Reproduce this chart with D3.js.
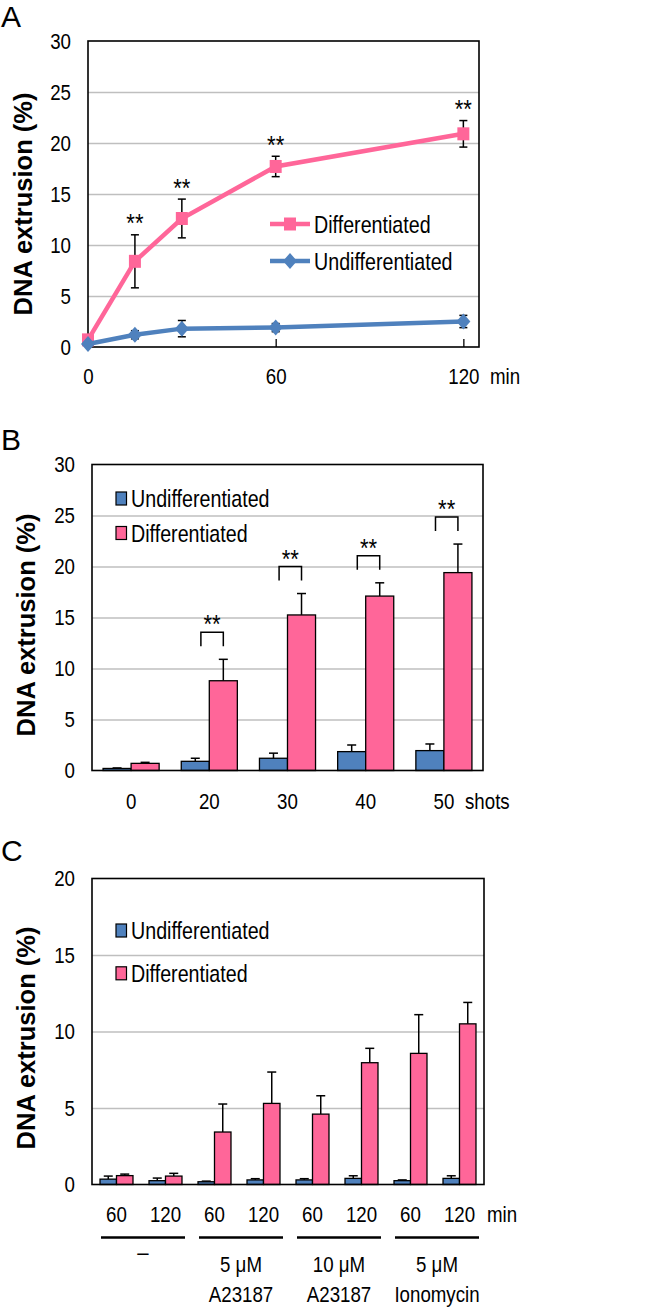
<!DOCTYPE html>
<html><head><meta charset="utf-8">
<script src="https://cdn.jsdelivr.net/npm/d3@7"></script>
<style>body{margin:0;background:#fff}svg{display:block}</style>
</head><body>
<svg id="chart" width="664" height="1307"></svg>
<script>
// ---------- DATA ----------
// Panel A (time course, min)
const timeA = [0, 15, 30, 60, 120];
const diffA = [0.7, 8.4, 12.6, 17.7, 20.9];
const diffErrA = [0.3, 2.6, 1.9, 1.0, 1.3];
const undiffA = [0.3, 1.2, 1.8, 1.9, 2.5];
const undiffErrA = [0.2, 0.4, 0.8, 0.4, 0.6];
const sigA = [false, true, true, true, true];
const xTicksA = [0, 60, 120];
// Panel B (shots)
const shotsB = ['0', '20', '30', '40', '50'];
const undiffB = [0.2, 0.9, 1.2, 1.85, 1.95];
const undiffErrB = [0.05, 0.3, 0.5, 0.65, 0.65];
const diffB = [0.7, 8.8, 15.25, 17.1, 19.4];
const diffErrB = [0.1, 2.1, 2.1, 1.3, 2.8];
const sigB = [false, true, true, true, true];
// Panel C (ionophores)
const minutesC = ['60', '120', '60', '120', '60', '120', '60', '120'];
const treatmentsC = [['–'], ['5 μM', 'A23187'], ['10 μM', 'A23187'], ['5 μM', 'Ionomycin']];
const undiffC = [0.35, 0.25, 0.18, 0.3, 0.3, 0.4, 0.25, 0.4];
const undiffErrC = [0.2, 0.17, 0.04, 0.08, 0.08, 0.17, 0.05, 0.17];
const diffC = [0.58, 0.55, 3.43, 5.3, 4.6, 7.96, 8.57, 10.5];
const diffErrC = [0.1, 0.18, 1.83, 2.05, 1.2, 0.94, 2.53, 1.4];
const yTicks30 = [0, 5, 10, 15, 20, 25, 30];
const yTicks20 = [0, 5, 10, 15, 20];
const seriesNames = ['Undifferentiated', 'Differentiated'];

// ---------- STYLE ----------
const FONT = "'Liberation Sans', Arial, Helvetica, sans-serif";
const PINK = '#FF6699', BLUE = '#4F81BD', GRID = '#BFBFBF';
const SX = 0.85;   // horizontal squeeze of the original figure text
const svg = d3.select('#chart');

// custom marker shapes (slightly taller than wide, like the original)
const squareSym = { draw(ctx) { ctx.moveTo(-6, -6.5); ctx.lineTo(6, -6.5); ctx.lineTo(6, 6.5); ctx.lineTo(-6, 6.5); ctx.closePath(); } };
const diamondSym = { draw(ctx) { ctx.moveTo(0, -8); ctx.lineTo(7, 0); ctx.lineTo(0, 8); ctx.lineTo(-7, 0); ctx.closePath(); } };

function txt(g, x, y, s, o = {}) {
  return g.append('text')
    .attr('transform', `translate(${x},${y}) scale(${o.sx ?? SX},1)`)
    .attr('text-anchor', o.anchor || 'start')
    .attr('font-family', FONT)
    .attr('font-size', o.size || 22)
    .attr('font-weight', o.weight || 'normal')
    .attr('fill', '#000')
    .text(s);
}

function frameAndYAxis(g, y, ticks, L, R) {
  g.append('g').attr('transform', `translate(${L},0)`)
    .call(d3.axisLeft(y).tickValues(ticks.slice(1, -1)).tickSize(-(R - L)).tickFormat(''))
    .call(a => a.select('.domain').remove())
    .selectAll('line').attr('stroke', GRID).attr('stroke-width', 1.6);
  const ax = g.append('g').attr('transform', `translate(${L},0)`)
    .call(d3.axisLeft(y).tickValues(ticks).tickSize(0).tickPadding(17));
  ax.select('.domain').remove();
  ax.selectAll('text').attr('font-family', FONT).attr('font-size', 22).attr('fill', '#000')
    .attr('x', -17 / SX).attr('transform', `scale(${SX},1)`);
}

function frame(g, L, R, T, B) {
  g.append('rect').attr('x', L).attr('y', T).attr('width', R - L).attr('height', B - T)
    .attr('fill', 'none').attr('stroke', '#000').attr('stroke-width', 1.6);
}

function yLabel(g, x, cy) {
  g.append('text').attr('transform', `translate(${x},${cy}) rotate(-90)`)
    .attr('text-anchor', 'middle').attr('font-family', FONT).attr('font-size', 25.5)
    .attr('font-weight', 'bold').text('DNA extrusion (%)');
}

// ================= PANEL A =================
{
  const L = 88, R = 479, T = 41, B = 347;
  const g = svg.append('g');
  const x = d3.scaleLinear().domain([0, 125]).range([L, R]);
  const y = d3.scaleLinear().domain([0, 30]).range([B, T]);
  txt(g, 1, 27, 'A', { size: 30, sx: 1 });
  frameAndYAxis(g, y, yTicks30, L, R);
  frame(g, L, R, T, B);
  yLabel(g, 32, 204);
  const xa = g.append('g').attr('transform', `translate(0,${B})`)
    .call(d3.axisBottom(x).tickValues(xTicksA).tickSize(-8).tickPadding(21));
  xa.select('.domain').remove();
  xa.selectAll('line').attr('stroke', '#000').attr('stroke-width', 1.3);
  xa.selectAll('text').attr('font-family', FONT).attr('font-size', 22).attr('fill', '#000')
    .attr('transform', `scale(${SX},1)`);
  txt(g, 490, 384, 'min');

  const series = [
    { vals: diffA, err: diffErrA, color: PINK, shape: squareSym, sig: sigA },
    { vals: undiffA, err: undiffErrA, color: BLUE, shape: diamondSym }
  ];
  series.forEach(s => {
    const pts = timeA.map((t, i) => ({ t, v: s.vals[i], e: s.err[i] }));
    g.append('path').datum(pts)
      .attr('d', d3.line().x(d => x(d.t)).y(d => y(d.v)))
      .attr('fill', 'none').attr('stroke', s.color).attr('stroke-width', 4.5);
    const eb = g.append('g').selectAll('g').data(pts).join('g');
    eb.append('line').attr('x1', d => x(d.t)).attr('x2', d => x(d.t))
      .attr('y1', d => y(d.v - d.e)).attr('y2', d => y(d.v + d.e))
      .attr('stroke', '#000').attr('stroke-width', 1.5);
    [1, -1].forEach(sg => eb.append('line')
      .attr('x1', d => x(d.t) - 4).attr('x2', d => x(d.t) + 4)
      .attr('y1', d => y(d.v + sg * d.e)).attr('y2', d => y(d.v + sg * d.e))
      .attr('stroke', '#000').attr('stroke-width', 1.5));
    g.append('g').selectAll('path').data(pts).join('path')
      .attr('transform', d => `translate(${x(d.t)},${y(d.v)})`)
      .attr('d', d3.symbol().type(s.shape))
      .attr('fill', s.color);
    if (s.sig) {
      pts.forEach((d, i) => {
        if (s.sig[i]) txt(g, x(d.t), y(d.v + d.e) - 17.5 + 15, '**', { anchor: 'middle', size: 26 });
      });
    }
  });
  const leg = [
    { name: 'Differentiated', color: PINK, shape: squareSym, y: 224 },
    { name: 'Undifferentiated', color: BLUE, shape: diamondSym, y: 261 }
  ];
  leg.forEach(l => {
    g.append('line').attr('x1', 270).attr('x2', 310).attr('y1', l.y).attr('y2', l.y)
      .attr('stroke', l.color).attr('stroke-width', 4.5);
    g.append('path').attr('transform', `translate(290,${l.y})`)
      .attr('d', d3.symbol().type(l.shape)).attr('fill', l.color);
    txt(g, 314, l.y + 8.5, l.name, { size: 24, sx: 0.82 });
  });
}

// ---------- grouped bar helper ----------
function barPanel(o) {
  const { L, R, T, B, cats, undiff, undiffErr, diff, diffErr, yMax, ticks, pi } = o;
  const g = svg.append('g');
  const x0 = d3.scaleBand().domain(d3.range(cats.length)).range([L, R]).paddingInner(pi).paddingOuter(pi / 2);
  const x1 = d3.scaleBand().domain(seriesNames).range([0, x0.bandwidth()]);
  const y = d3.scaleLinear().domain([0, yMax]).range([B, T]);
  frameAndYAxis(g, y, ticks, L, R);
  const data = cats.map((c, i) => ({
    i, vals: [
      { s: 'Undifferentiated', v: undiff[i], e: undiffErr[i], c: BLUE },
      { s: 'Differentiated', v: diff[i], e: diffErr[i], c: PINK }
    ]
  }));
  const grp = g.append('g').selectAll('g').data(data).join('g')
    .attr('transform', d => `translate(${x0(d.i)},0)`);
  const bar = grp.selectAll('g').data(d => d.vals).join('g');
  const cx = d => x1(d.s) + x1.bandwidth() / 2;
  bar.append('line').attr('x1', cx).attr('x2', cx)
    .attr('y1', d => y(d.v)).attr('y2', d => y(d.v + d.e)).attr('stroke', '#000').attr('stroke-width', 1.5);
  bar.append('line').attr('x1', d => cx(d) - 4.5).attr('x2', d => cx(d) + 4.5)
    .attr('y1', d => y(d.v + d.e)).attr('y2', d => y(d.v + d.e)).attr('stroke', '#000').attr('stroke-width', 1.5);
  bar.append('rect').attr('x', d => x1(d.s)).attr('width', x1.bandwidth())
    .attr('y', d => y(d.v)).attr('height', d => B - y(d.v))
    .attr('fill', d => d.c).attr('stroke', '#000').attr('stroke-width', 1.3);
  frame(g, L, R, T, B);
  const xa = g.append('g').attr('transform', `translate(0,${B})`)
    .call(d3.axisBottom(x0).tickFormat(i => cats[i]).tickSize(0).tickPadding(o.tickPad));
  xa.select('.domain').remove();
  xa.selectAll('text').attr('font-family', FONT).attr('font-size', 22).attr('fill', '#000')
    .attr('transform', `scale(${SX},1)`);
  return { g, x0, x1, y };
}

function barLegend(g, y1, y2) {
  [[seriesNames[0], BLUE, y1], [seriesNames[1], PINK, y2]].forEach(([n, c, yy]) => {
    g.append('rect').attr('x', 116).attr('y', yy - 6.5).attr('width', 10.5).attr('height', 13)
      .attr('fill', c).attr('stroke', '#000').attr('stroke-width', 1.2);
    txt(g, 131, yy + 8.5, n, { size: 24, sx: 0.82 });
  });
}

// ================= PANEL B =================
{
  const P = barPanel({ L: 92, R: 483, T: 464.5, B: 770.5, cats: shotsB, undiff: undiffB, undiffErr: undiffErrB,
    diff: diffB, diffErr: diffErrB, yMax: 30, ticks: yTicks30, pi: 0.283, tickPad: 23 });
  const { g, x0, x1, y } = P;
  txt(g, 1, 450, 'B', { size: 30, sx: 1 });
  yLabel(g, 35, 625);
  txt(g, 465, 809, 'shots');
  barLegend(g, 498.5, 533);
  shotsB.forEach((c, i) => {
    if (!sigB[i]) return;
    const bw = x1.bandwidth();
    const xl = x0(i) + bw * 0.7, xr = x0(i) + bw * 1.5;
    const yb = y(diffB[i] + diffErrB[i]) - 13, yt = yb - 14;
    g.append('path').attr('d', `M${xl},${yb}V${yt}H${xr}V${yb}`)
      .attr('fill', 'none').attr('stroke', '#000').attr('stroke-width', 1.5);
    txt(g, (xl + xr) / 2, yt - 14 + 15, '**', { anchor: 'middle', size: 26 });
  });
}

// ================= PANEL C =================
{
  const P = barPanel({ L: 92, R: 484, T: 878.5, B: 1184.5, cats: minutesC, undiff: undiffC, undiffErr: undiffErrC,
    diff: diffC, diffErr: diffErrC, yMax: 20, ticks: yTicks20, pi: 0.327, tickPad: 22 });
  const { g, x0 } = P;
  txt(g, 1, 861, 'C', { size: 30, sx: 1 });
  yLabel(g, 35, 1038);
  txt(g, 487, 1222, 'min');
  barLegend(g, 930.5, 973.3);
  treatmentsC.forEach((lines, k) => {
    const a = x0(2 * k) - x0.step() * x0.paddingInner() / 2;
    const b = a + 2 * x0.step();
    const xl = a + 9, xr = b - 5, cx = (xl + xr) / 2;
    g.append('line').attr('x1', xl).attr('x2', xr).attr('y1', 1237.5).attr('y2', 1237.5)
      .attr('stroke', '#000').attr('stroke-width', 2.5);
    if (lines.length === 1) {
      txt(g, cx, 1260, lines[0], { anchor: 'middle', size: 24 });
    } else {
      txt(g, cx, 1272, lines[0], { anchor: 'middle', size: 22 });
      txt(g, cx, 1302, lines[1], { anchor: 'middle', size: 22 });
    }
  });
}
</script>
</body></html>
